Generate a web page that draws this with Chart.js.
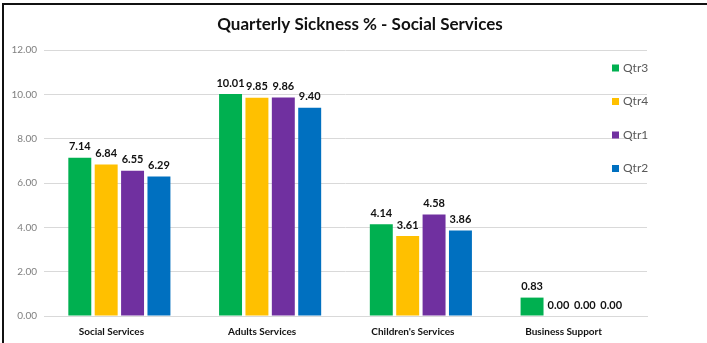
<!DOCTYPE html>
<html>
<head>
<meta charset="utf-8">
<script src="https://cdn.jsdelivr.net/npm/chart.js@4.4.1/dist/chart.umd.min.js"></script>
<style>
  html, body { margin: 0; padding: 0; background: #fff; }
  #wrap { position: relative; width: 707px; height: 343px; }
  #frame { position: absolute; left: 2px; top: 3px; right: 0; bottom: 0;
           border-top: 2px solid #111; border-left: 2px solid #111; pointer-events: none; }
</style>
</head>
<body>
<div id="wrap">
  <canvas id="sickChart" width="707" height="343"></canvas>
  <div id="frame"></div>
</div>
<script>
var categories = ["Social Services", "Adults Services", "Children's Services", "Business Support"];
var qtr3 = [7.14, 10.01, 4.14, 0.83];
var qtr4 = [6.84, 9.85, 3.61, 0.00];
var qtr1 = [6.55, 9.86, 4.58, 0.00];
var qtr2 = [6.29, 9.40, 3.86, 0.00];
var yTicks = [0, 2, 4, 6, 8, 10, 12];
var chartTitle = 'Quarterly Sickness % - Social Services';

var FONT = "Lato, 'Open Sans', sans-serif";

// title sits over the whole frame, not just the plot
var topTitle = {
  id: 'topTitle',
  afterDraw: function(chart) {
    var ctx = chart.ctx;
    ctx.save();
    ctx.font = "bold 17px " + FONT;
    ctx.fillStyle = '#111';
    ctx.textAlign = 'center';
    ctx.textBaseline = 'middle';
    ctx.fillText(chartTitle, 360, 25);
    ctx.restore();
  }
};

// value labels above each bar
var barLabels = {
  id: 'barLabels',
  afterDatasetsDraw: function(chart) {
    var ctx = chart.ctx;
    ctx.save();
    ctx.font = "bold 11px " + FONT;
    ctx.fillStyle = '#111';
    ctx.textAlign = 'center';
    ctx.textBaseline = 'middle';
    chart.data.datasets.forEach(function(ds, i) {
      chart.getDatasetMeta(i).data.forEach(function(bar, j) {
        ctx.fillText(ds.data[j].toFixed(2), bar.x, bar.y - 11);
      });
    });
    ctx.restore();
  }
};

// legend stacked down the right side, over the plot
var sideLegend = {
  id: 'sideLegend',
  afterDraw: function(chart) {
    var ctx = chart.ctx;
    ctx.save();
    ctx.font = "12px " + FONT;
    ctx.textBaseline = 'middle';
    ctx.textAlign = 'left';
    chart.data.datasets.forEach(function(ds, i) {
      var y = 68 + i * 33.5;
      ctx.fillStyle = ds.backgroundColor;
      ctx.fillRect(612, y - 3.5, 7, 7);
      ctx.fillStyle = '#595959';
      ctx.fillText(ds.label, 623, y);
    });
    ctx.restore();
  }
};

var options1 = {
  type: 'bar',
  data: {
    labels: categories,
    datasets: [
      { label: 'Qtr3', data: qtr3, backgroundColor: '#00b050' },
      { label: 'Qtr4', data: qtr4, backgroundColor: '#ffc000' },
      { label: 'Qtr1', data: qtr1, backgroundColor: '#7030a0' },
      { label: 'Qtr2', data: qtr2, backgroundColor: '#0070c0' }
    ]
  },
  options: {
    responsive: false,
    animation: false,
    categoryPercentage: 0.70,
    barPercentage: 0.87,
    layout: { padding: { left: 0, right: 60, top: 50, bottom: 0 } },
    plugins: {
      legend: { display: false },
      tooltip: { enabled: false },
      title: { display: false }
    },
    scales: {
      x: {
        grid: { display: false },
        border: { color: '#d9d9d9' },
        ticks: {
          color: '#111',
          font: { family: FONT, size: 10, weight: 'bold' },
          padding: 2,
          labelOffset: -8
        },
        afterFit: function(scale) { scale.height = 27; }
      },
      y: {
        min: 0,
        max: 12,
        afterBuildTicks: function(scale) {
          scale.ticks = yTicks.map(function(v) { return { value: v }; });
        },
        grid: { color: '#d9d9d9', drawTicks: false },
        border: { display: false },
        ticks: {
          color: '#7f7f7f',
          font: { family: FONT, size: 10 },
          padding: 7,
          callback: function(v) { return Number(v).toFixed(2); }
        },
        afterFit: function(scale) { scale.width = 44; }
      }
    }
  },
  plugins: [topTitle, barLabels, sideLegend]
};

var ctx1 = document.getElementById('sickChart').getContext('2d');
new Chart(ctx1, options1);
</script>
</body>
</html>
